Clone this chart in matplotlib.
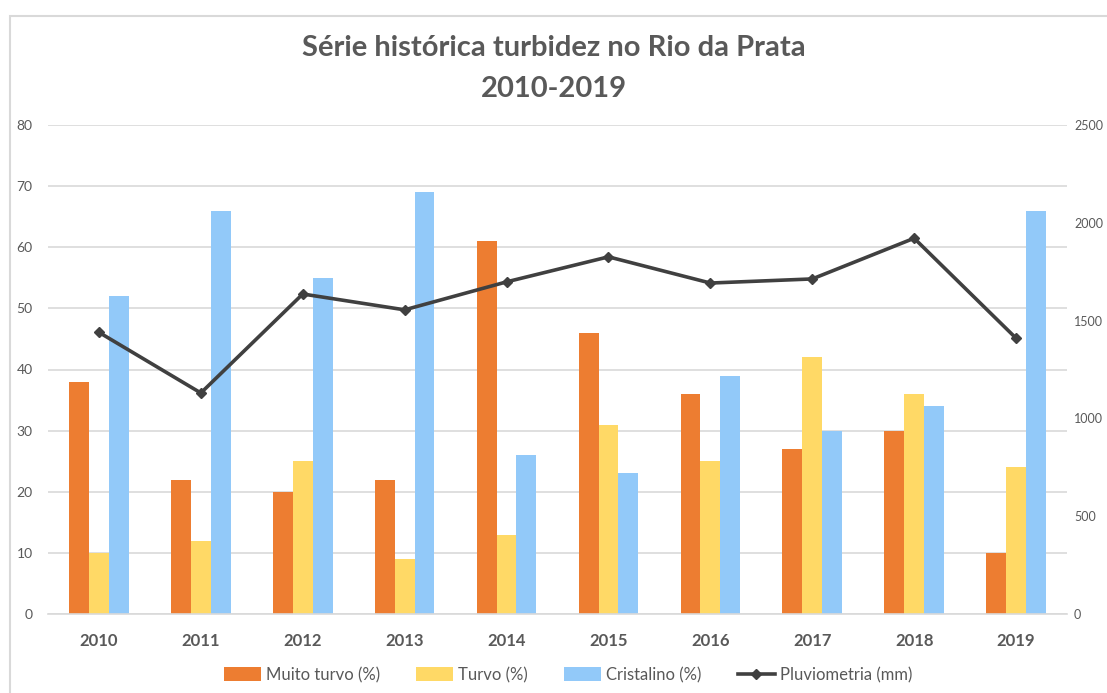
import matplotlib
matplotlib.use('Agg')
import matplotlib.pyplot as plt
from matplotlib.patches import Rectangle
import numpy as np

plt.rcParams['font.family'] = ['Lato', 'DejaVu Sans']

anos = ['2010', '2011', '2012', '2013', '2014', '2015', '2016', '2017', '2018', '2019']
muito_turvo = [38, 22, 20, 22, 61, 46, 36, 27, 30, 10]
turvo = [10, 12, 25, 9, 13, 31, 25, 42, 36, 24]
cristalino = [52, 66, 55, 69, 26, 23, 39, 30, 34, 66]
pluviometria = [1440, 1130, 1636, 1555, 1698, 1826, 1692, 1713, 1921, 1410]

cor_muito = '#ED7D31'
cor_turvo = '#FFD966'
cor_crist = '#92C9F9'
cor_linha = '#404040'
cor_texto = '#595959'
cor_grade = '#D9D9D9'

fig = plt.figure(figsize=(11.07, 6.93), dpi=100)
# moldura da área do gráfico
fig.patches.append(Rectangle((9.5 / 1107, -0.05), 1.2, 1 - 15.5 / 693 + 0.05,
                             transform=fig.transFigure, fill=False,
                             edgecolor='#D9D9D9', linewidth=1.5))

ax = fig.add_axes([48 / 1107, 1 - 614 / 693, (1067 - 48) / 1107, (614 - 125) / 693])
ax2 = ax.twinx()

x = np.arange(len(anos))
w = 0.195
ax.bar(x - w, muito_turvo, w, color=cor_muito, label='Muito turvo (%)', zorder=2)
ax.bar(x, turvo, w, color=cor_turvo, label='Turvo (%)', zorder=2)
ax.bar(x + w, cristalino, w, color=cor_crist, label='Cristalino (%)', zorder=2)

ax2.plot(x, pluviometria, color=cor_linha, linewidth=2.6, marker='D', markersize=5,
         label='Pluviometria (mm)', zorder=3)

ax.set_xlim(-0.5, len(anos) - 0.5)
ax.set_ylim(0, 80)
ax.set_yticks(range(0, 81, 10))
ax2.set_ylim(0, 2500)
ax2.set_yticks(range(0, 2501, 500))

ax.yaxis.grid(True, color=cor_grade, linewidth=1.2, zorder=0)
ax.set_axisbelow(True)
for a in (ax, ax2):
    for s in a.spines.values():
        s.set_visible(False)
ax.spines['bottom'].set_visible(True)
ax.spines['bottom'].set_color(cor_grade)
ax.spines['bottom'].set_linewidth(1.2)

ax.set_xticks(x)
ax.set_xticklabels(anos, fontsize=12, fontweight='bold', color=cor_texto)
ax.tick_params(axis='x', length=0, pad=14)
ax.tick_params(axis='y', length=0, pad=11, labelsize=10, labelcolor=cor_texto)
ax2.tick_params(axis='y', length=0, pad=5, labelsize=9, labelcolor=cor_texto)

fig.text(0.5, 1 - 48 / 693, 'Série histórica turbidez no Rio da Prata', ha='center', va='center',
         fontsize=21, fontweight='bold', color=cor_texto)
fig.text(0.5, 1 - 89 / 693, '2010-2019', ha='center', va='center',
         fontsize=21, fontweight='bold', color=cor_texto)

h1, l1 = ax.get_legend_handles_labels()
h2, l2 = ax2.get_legend_handles_labels()
fig.legend(h1 + h2, l1 + l2, loc='center', bbox_to_anchor=(568 / 1107, 1 - 675 / 693),
           ncol=4, frameon=False, fontsize=12, labelcolor=cor_texto,
           handlelength=2.2, handleheight=0.9, columnspacing=2.2, handletextpad=0.3)

fig.savefig('out.png', dpi=100)
